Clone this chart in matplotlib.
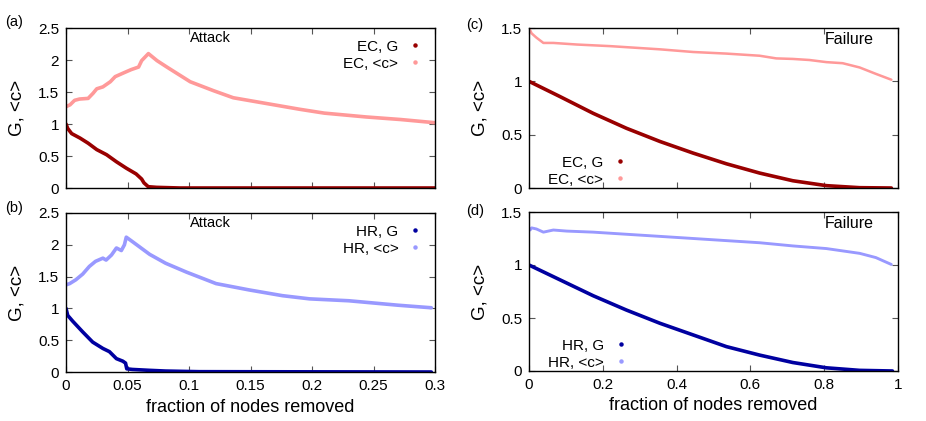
import matplotlib
matplotlib.use("Agg")
import matplotlib.pyplot as plt
from matplotlib.ticker import FuncFormatter, MultipleLocator
from matplotlib.lines import Line2D

plt.rcParams['font.family'] = ['Liberation Sans', 'DejaVu Sans']

# ---- data ----
# (a) Attack, EC
ec_att_c_x = [0, 0.0033, 0.007, 0.011, 0.018, 0.022, 0.025, 0.030, 0.036, 0.040, 0.047, 0.053,
              0.059, 0.0615, 0.063, 0.067, 0.074, 0.082, 0.101, 0.12, 0.136, 0.163, 0.19, 0.21,
              0.244, 0.272, 0.3]
ec_att_c_y = [1.27, 1.30, 1.37, 1.39, 1.40, 1.48, 1.55, 1.58, 1.66, 1.74, 1.80, 1.85,
              1.89, 1.99, 2.02, 2.10, 1.99, 1.89, 1.66, 1.52, 1.41, 1.32, 1.23, 1.17,
              1.11, 1.07, 1.02]
ec_att_g_x = [0, 0.0014, 0.0046, 0.0114, 0.018, 0.025, 0.033, 0.041, 0.049, 0.057, 0.0615,
              0.0634, 0.0669, 0.0737, 0.0927, 0.3]
ec_att_g_y = [1.0, 0.93, 0.85, 0.78, 0.70, 0.60, 0.52, 0.41, 0.31, 0.22, 0.14,
              0.08, 0.02, 0.01, 0.0, 0.0]

# (b) Attack, HR
hr_att_c_x = [0, 0.003, 0.008, 0.0136, 0.019, 0.024, 0.030, 0.0326, 0.037, 0.041, 0.045,
              0.0475, 0.049, 0.054, 0.068, 0.081, 0.098, 0.122, 0.149, 0.176, 0.198, 0.23,
              0.27, 0.297]
hr_att_c_y = [1.37, 1.39, 1.45, 1.54, 1.66, 1.74, 1.79, 1.76, 1.84, 1.95, 1.91,
              2.0, 2.12, 2.05, 1.85, 1.71, 1.57, 1.39, 1.29, 1.20, 1.15, 1.12,
              1.05, 1.01]
hr_att_g_x = [0, 0.0014, 0.0054, 0.0136, 0.0217, 0.030, 0.0353, 0.041, 0.0462, 0.0484,
              0.0494, 0.054, 0.068, 0.081, 0.108, 0.297]
hr_att_g_y = [1.0, 0.89, 0.80, 0.63, 0.47, 0.37, 0.32, 0.21, 0.17, 0.14,
              0.05, 0.04, 0.026, 0.015, 0.005, 0.0]

# (c) Failure, EC
ec_fail_c_x = [0.003, 0.007, 0.02, 0.039, 0.066, 0.13, 0.22, 0.355, 0.445, 0.535, 0.625,
               0.67, 0.715, 0.76, 0.806, 0.85, 0.896, 0.94, 0.982]
ec_fail_c_y = [1.48, 1.45, 1.41, 1.36, 1.36, 1.345, 1.33, 1.30, 1.275, 1.26, 1.24,
               1.215, 1.21, 1.20, 1.18, 1.17, 1.13, 1.07, 1.015]
ec_fail_g_x = [0, 0.084, 0.174, 0.264, 0.355, 0.445, 0.535, 0.625, 0.715, 0.806, 0.896, 0.982]
ec_fail_g_y = [1.0, 0.857, 0.70, 0.56, 0.436, 0.327, 0.227, 0.14, 0.068, 0.022, 0.003, 0.0]

# (d) Failure, HR
hr_fail_c_x = [0.003, 0.007, 0.02, 0.039, 0.066, 0.102, 0.174, 0.264, 0.355, 0.445, 0.535,
               0.625, 0.715, 0.806, 0.896, 0.94, 0.982]
hr_fail_c_y = [1.33, 1.35, 1.34, 1.31, 1.33, 1.32, 1.31, 1.29, 1.27, 1.25, 1.23,
               1.21, 1.18, 1.155, 1.11, 1.07, 1.005]
hr_fail_g_x = [0, 0.084, 0.174, 0.264, 0.355, 0.445, 0.535, 0.625, 0.715, 0.806, 0.896, 0.985]
hr_fail_g_y = [1.0, 0.86, 0.71, 0.575, 0.45, 0.34, 0.23, 0.15, 0.08, 0.03, 0.006, 0.0]

attack_xticks = [0, 0.05, 0.1, 0.15, 0.2, 0.25, 0.3]
failure_xticks = [0, 0.2, 0.4, 0.6, 0.8, 1]

DARK_RED = '#990000'
PINK = '#ff9999'
DARK_BLUE = '#0000a0'
LIGHT_BLUE = '#9999ff'

W, H = 926, 421
fig = plt.figure(figsize=(W / 100, H / 100), dpi=100)


def add_ax(l, t, r, b):
    return fig.add_axes([l / W, (H - b) / H, (r - l) / W, (b - t) / H])


fmt = FuncFormatter(lambda v, p: '%g' % v)


def style(ax, xmax, ymax, xticks, ystep, show_xlabels):
    ax.set_xlim(0, xmax)
    ax.set_ylim(0, ymax)
    ax.set_xticks(xticks)
    ax.yaxis.set_major_locator(MultipleLocator(ystep))
    ax.xaxis.set_major_formatter(fmt)
    ax.yaxis.set_major_formatter(fmt)
    ax.tick_params(direction='in', length=4, width=0.8, top=True, right=True,
                   labelsize=11, pad=5, colors='#000000')
    ax.tick_params(axis='both', color='#555555')
    if not show_xlabels:
        ax.tick_params(labelbottom=False)
    for s in ax.spines.values():
        s.set_linewidth(1.0)
    ax.set_ylabel('G, <c>', fontsize=13.5, labelpad=9)


def legend(ax, labels, colors, loc, anchor):
    handles = [Line2D([], [], linestyle='none', marker='o', markersize=2.2,
                      color=c) for c in colors]
    lg = ax.legend(handles, labels, loc=loc, bbox_to_anchor=anchor, frameon=False,
                   markerfirst=False, handlelength=0.6, handletextpad=0.8,
                   fontsize=11, labelspacing=0.2, borderaxespad=0)
    for t in lg.get_texts():
        t.set_ha('right')
    return lg


lw = 2.6
# (a)
ax_a = add_ax(66, 28, 435, 188)
ax_a.plot(ec_att_c_x, ec_att_c_y, color=PINK, lw=lw, solid_capstyle='round', solid_joinstyle='round')
ax_a.plot(ec_att_g_x, ec_att_g_y, color=DARK_RED, lw=lw, solid_capstyle='round', solid_joinstyle='round')
style(ax_a, 0.3, 2.5, attack_xticks, 0.5, False)
legend(ax_a, ['EC, G', 'EC, <c>'], [DARK_RED, PINK], 'upper right', (0.975, 0.965))
ax_a.text(0.392, 0.94, 'Attack', transform=ax_a.transAxes, ha='center', va='center', fontsize=10.5)
fig.text(14 / W, 1 - 22 / H, '(a)', fontsize=10.5, ha='center', va='center')

# (b)
ax_b = add_ax(66, 213, 435, 372)
ax_b.plot(hr_att_c_x, hr_att_c_y, color=LIGHT_BLUE, lw=lw, solid_capstyle='round', solid_joinstyle='round')
ax_b.plot(hr_att_g_x, hr_att_g_y, color=DARK_BLUE, lw=lw, solid_capstyle='round', solid_joinstyle='round')
style(ax_b, 0.3, 2.5, attack_xticks, 0.5, True)
legend(ax_b, ['HR, G', 'HR, <c>'], [DARK_BLUE, LIGHT_BLUE], 'upper right', (0.975, 0.965))
ax_b.text(0.392, 0.94, 'Attack', transform=ax_b.transAxes, ha='center', va='center', fontsize=10.5)
ax_b.set_xlabel('fraction of nodes removed', fontsize=13, labelpad=4)
fig.text(14 / W, 1 - 208 / H, '(b)', fontsize=10.5, ha='center', va='center')

# (c)
ax_c = add_ax(529, 28, 898, 188)
ax_c.plot(ec_fail_c_x, ec_fail_c_y, color=PINK, lw=lw * 0.7, solid_capstyle='round', solid_joinstyle='round')
ax_c.plot(ec_fail_g_x, ec_fail_g_y, color=DARK_RED, lw=lw, solid_capstyle='round', solid_joinstyle='round')
style(ax_c, 1.0, 1.5, failure_xticks, 0.5, False)
legend(ax_c, ['EC, G', 'EC, <c>'], [DARK_RED, PINK], 'lower left', (0.035, -0.03))
ax_c.text(0.869, 0.93, 'Failure', transform=ax_c.transAxes, ha='center', va='center', fontsize=11.5)
fig.text(475 / W, 1 - 25 / H, '(c)', fontsize=10.5, ha='center', va='center')

# (d)
ax_d = add_ax(529, 212, 898, 371)
ax_d.plot(hr_fail_c_x, hr_fail_c_y, color=LIGHT_BLUE, lw=lw * 0.8, solid_capstyle='round', solid_joinstyle='round')
ax_d.plot(hr_fail_g_x, hr_fail_g_y, color=DARK_BLUE, lw=lw, solid_capstyle='round', solid_joinstyle='round')
style(ax_d, 1.0, 1.5, failure_xticks, 0.5, True)
legend(ax_d, ['HR, G', 'HR, <c>'], [DARK_BLUE, LIGHT_BLUE], 'lower left', (0.035, -0.03))
ax_d.text(0.869, 0.93, 'Failure', transform=ax_d.transAxes, ha='center', va='center', fontsize=11.5)
ax_d.set_xlabel('fraction of nodes removed', fontsize=13, labelpad=4)
fig.text(475 / W, 1 - 211 / H, '(d)', fontsize=10.5, ha='center', va='center')

fig.savefig('out.png', dpi=100)
